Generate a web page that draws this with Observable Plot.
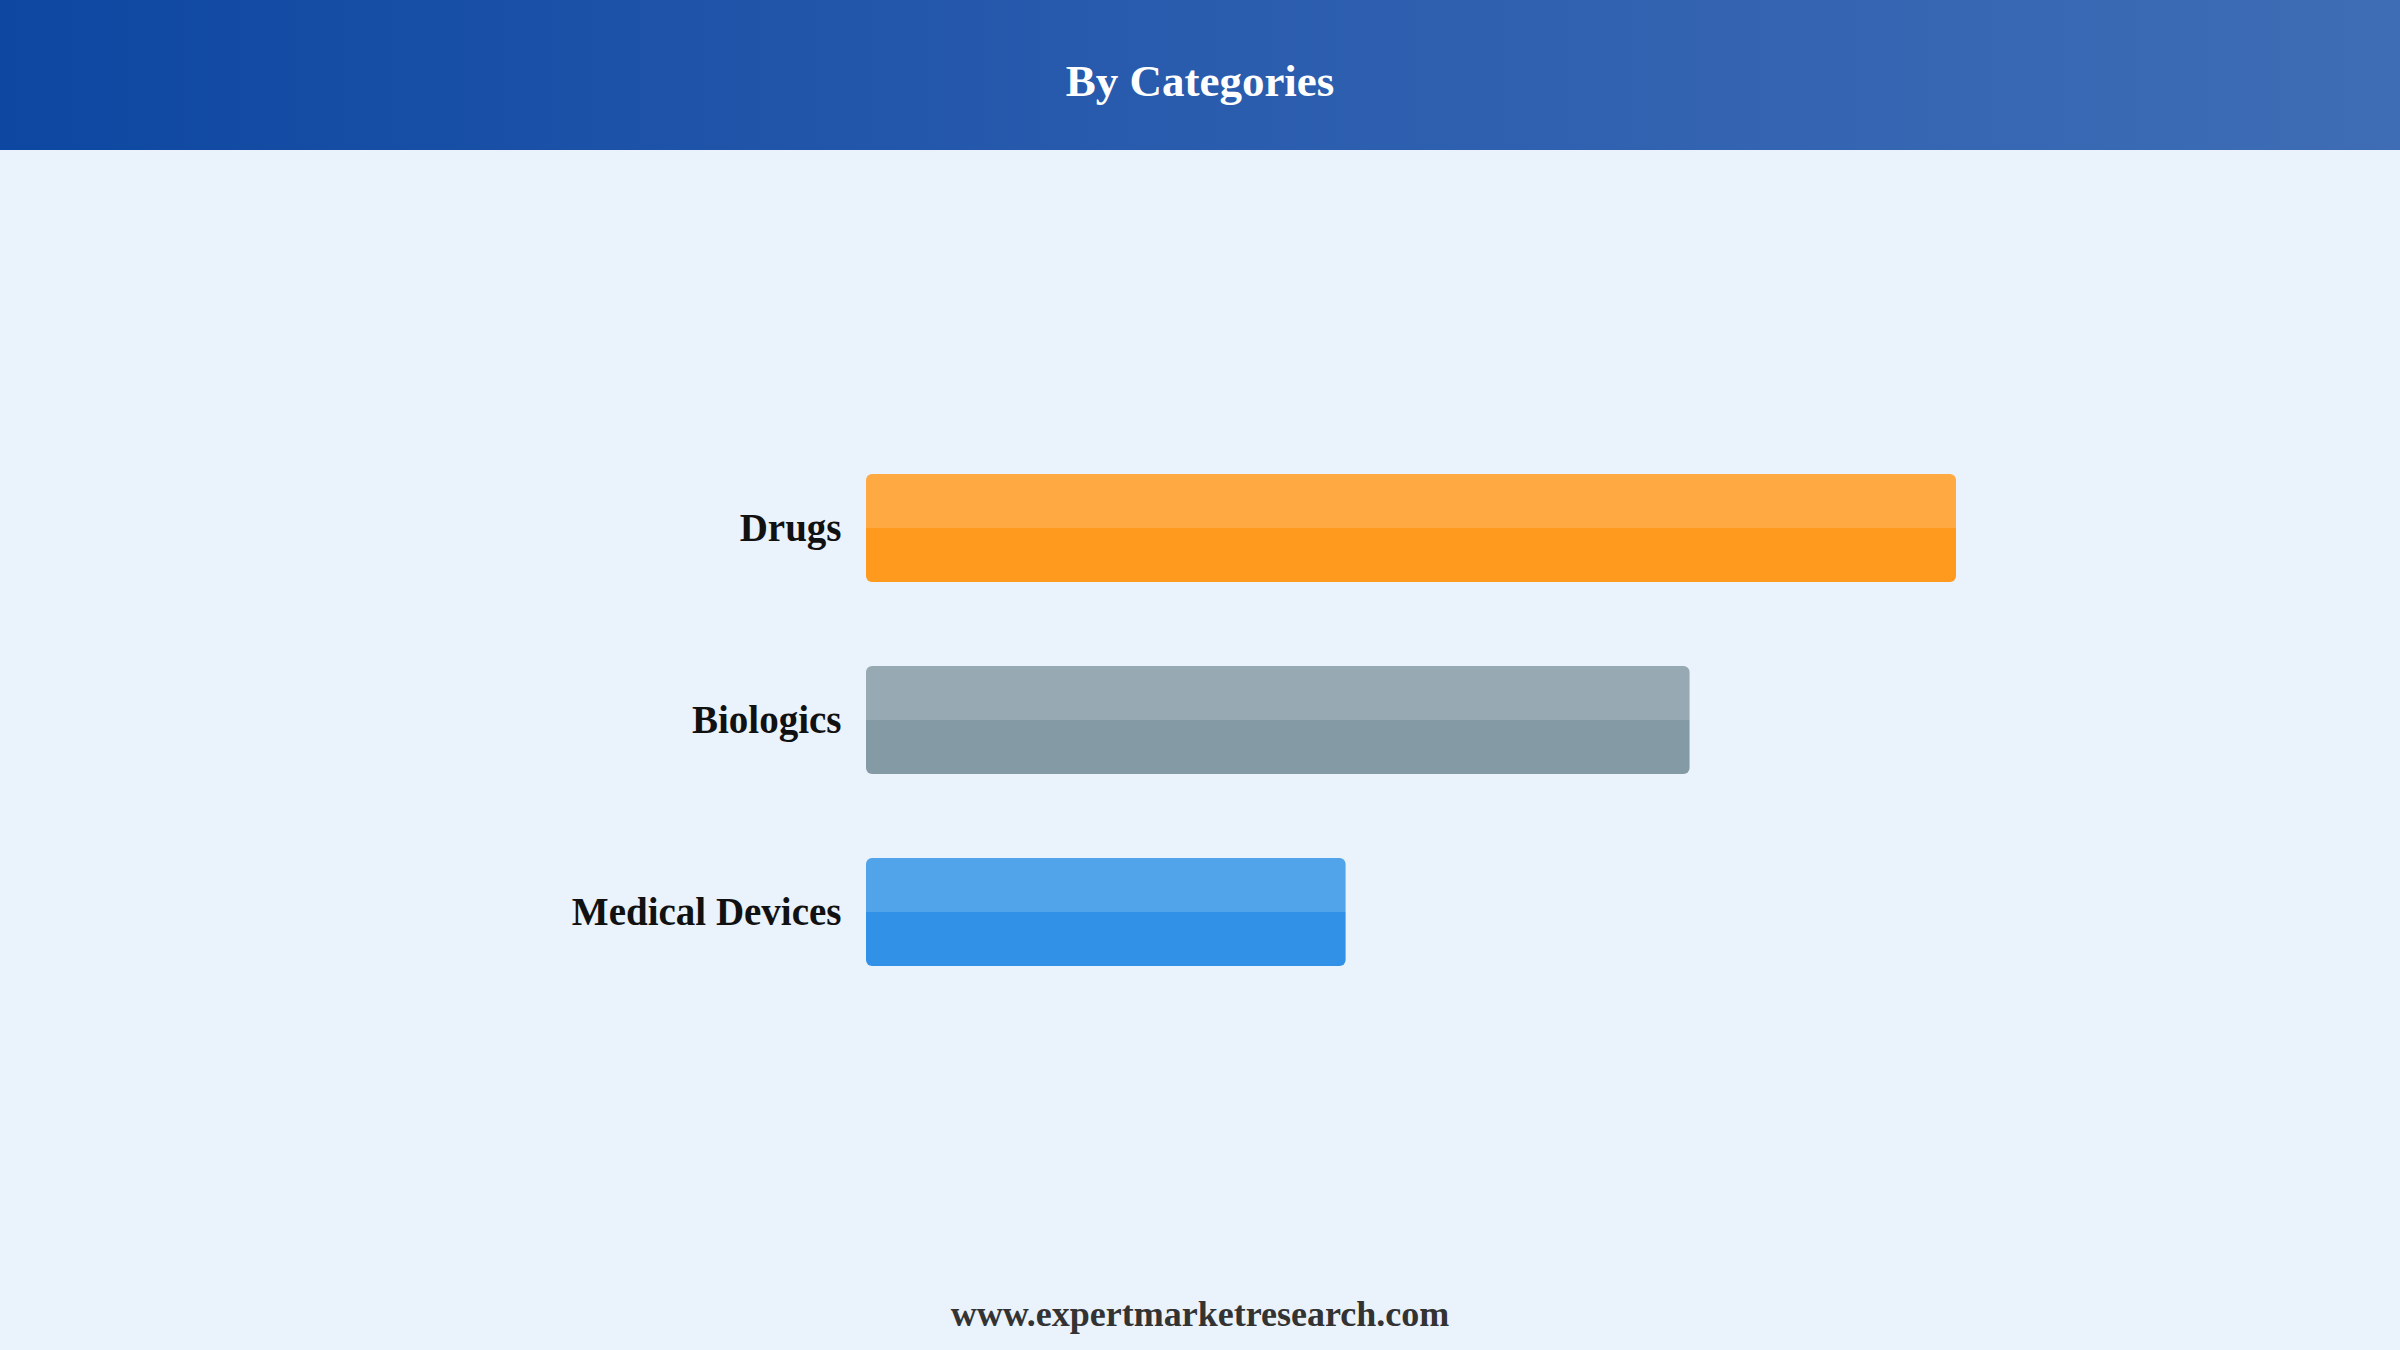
<!DOCTYPE html>
<html>
<head>
<meta charset="utf-8">
<script src="https://cdn.jsdelivr.net/npm/d3@7"></script>
<script src="https://cdn.jsdelivr.net/npm/@observablehq/plot@0.6"></script>
<style>
  html, body { margin: 0; padding: 0; }
  body { width: 2400px; height: 1350px; overflow: hidden; background: #eaf2fc; position: relative;
         font-family: "Liberation Serif", "Times New Roman", serif; }
  #header { position: absolute; left: 0; top: 0; width: 2400px; height: 150px;
            background: linear-gradient(90deg, #0d47a1 0%, #2a5cae 50%, #3e6db5 100%); }
  #title { position: absolute; left: 0; top: 6px; width: 100%; text-align: center; line-height: 150px;
           color: #ffffff; font-size: 45px; font-weight: bold; }
  #chart { position: absolute; left: 0; top: 150px; }
  #footer { position: absolute; left: 0; top: 1289px; width: 100%; text-align: center; line-height: 50px;
            color: #333333; font-size: 36px; font-weight: bold; }
</style>
</head>
<body>
<div id="header"><div id="title">By Categories</div></div>
<div id="chart"></div>
<div id="footer">www.expertmarketresearch.com</div>
<script>
const categories = ["Drugs", "Biologics", "Medical Devices"];
const values = [45, 34, 19.8];
const lightColors = ["#ffa942", "#97a9b2", "#51a3ea"];
const darkColors = ["#ff9a1e", "#849ba5", "#3091e6"];

const data = categories.map((c, i) => ({category: c, value: values[i], grad: `url(#grad-${i})`}));

const svg = Plot.plot({
  width: 2400,
  height: 1050,
  marginLeft: 866,
  marginRight: 444,
  marginTop: 240,
  marginBottom: 150,
  style: {background: "transparent", fontFamily: "'Liberation Serif', 'Times New Roman', serif"},
  x: {domain: [0, 45], axis: null},
  y: {domain: categories, padding: 0.4375, axis: null},
  color: {type: "identity"},
  marks: [
    Plot.barX(data, {x: "value", y: "category", fill: "grad", rx: 6}),
    Plot.axisY({tickSize: 0, tickPadding: 25, fontSize: 39, fontWeight: "bold", fill: "#111111", label: null})
  ]
});

const defs = d3.select(svg).insert("defs", ":first-child");
categories.forEach((c, i) => {
  const g = defs.append("linearGradient").attr("id", `grad-${i}`)
    .attr("x1", 0).attr("y1", 0).attr("x2", 0).attr("y2", 1);
  g.append("stop").attr("offset", "0%").attr("stop-color", lightColors[i]);
  g.append("stop").attr("offset", "50%").attr("stop-color", lightColors[i]);
  g.append("stop").attr("offset", "50%").attr("stop-color", darkColors[i]);
  g.append("stop").attr("offset", "100%").attr("stop-color", darkColors[i]);
});

document.getElementById("chart").appendChild(svg);
</script>
</body>
</html>
